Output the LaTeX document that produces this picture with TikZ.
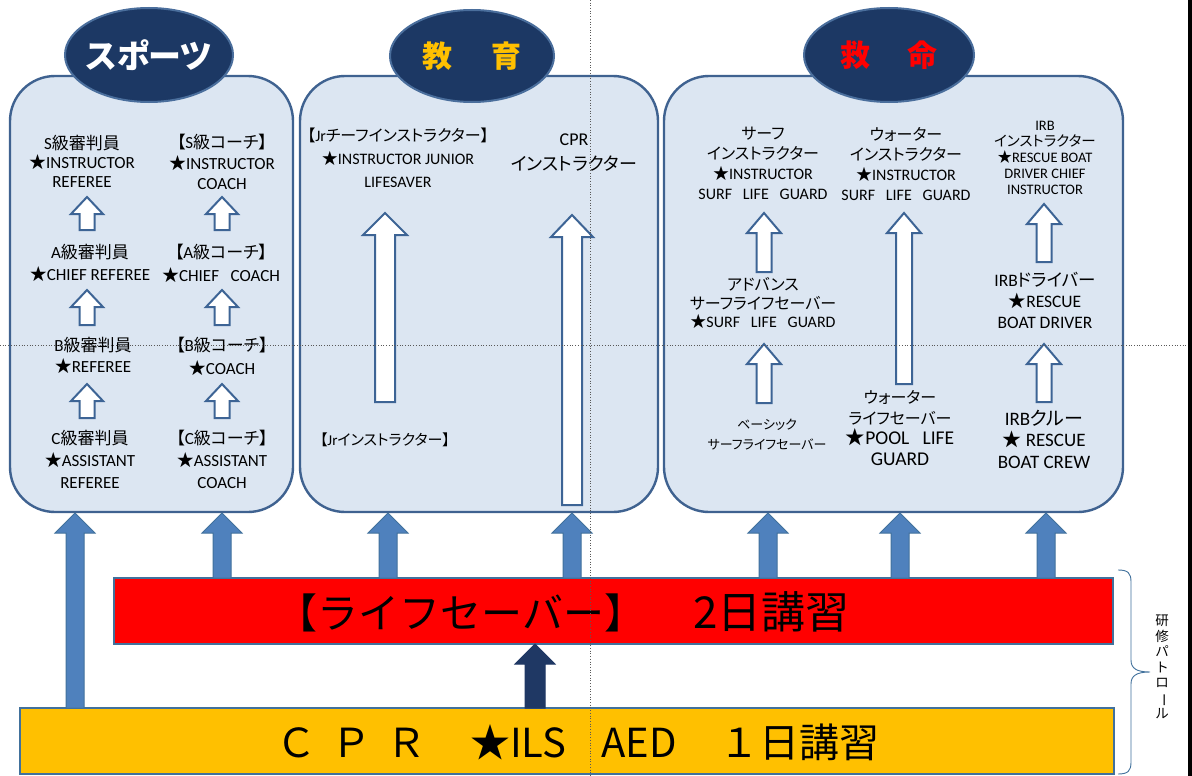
\documentclass[tikz,border=0pt]{standalone}
\usepackage{fontspec}
\setmainfont{Carlito}
\newfontfamily\jpf[RawFeature=+palt]{Noto Sans CJK JP}
\newfontfamily\jpw{Noto Sans CJK JP}
\newcommand\J[1]{{\jpf #1}}
\newcommand\fs[2]{\fontsize{#1}{#2}\selectfont}
\usetikzlibrary{shapes.geometric}
\definecolor{panelfill}{HTML}{DCE6F2}
\definecolor{panelline}{HTML}{3F6290}
\definecolor{ovalfill}{HTML}{1C3864}
\definecolor{ovalline}{HTML}{4A6E9C}
\definecolor{arrline}{HTML}{3D6495}
\definecolor{bluefill}{HTML}{4F81BD}
\definecolor{blueline}{HTML}{41719C}
\definecolor{navyfill}{HTML}{1F3864}
\definecolor{barline}{HTML}{41719C}
\definecolor{orangefill}{HTML}{FFC000}
\definecolor{titleorange}{HTML}{FFC000}
\tikzset{
  panel/.style={draw=panelline, fill=panelfill, line width=2.4pt, rounded corners=45pt, inner sep=0pt},
  oval/.style={ellipse, draw=ovalline, fill=ovalfill, line width=2pt, inner sep=0pt},
  title/.style={inner sep=0pt, font=\jpf\bfseries\fs{32}{36}},
  lbl/.style={align=center, inner sep=0pt, text=black},
  whitearr/.style={draw=arrline, fill=white, line width=2pt, line join=miter},
  bluearr/.style={draw=blueline, fill=bluefill, line width=1pt, line join=miter},
  navyarr/.style={draw=navyfill, fill=navyfill, line width=1pt, line join=miter},
  bar/.style={draw=barline, line width=2pt, inner sep=0pt},
  guide/.style={draw=black!65, dotted, line width=0.7pt},
  bracepath/.style={draw=blueline, line width=0.9pt}
}
% #1 style, #2 x, #3 ytop, #4 ybottom, #5 head width, #6 shaft width, #7 head height
\newcommand\blkarrow[7]{%
  \path[#1] ({#2-#6/2},#4) -- ({#2-#6/2},{#3+#7}) -- ({#2-#5/2},{#3+#7}) -- (#2,#3)
    -- ({#2+#5/2},{#3+#7}) -- ({#2+#6/2},{#3+#7}) -- ({#2+#6/2},#4) -- cycle;}
\begin{document}
\begin{tikzpicture}[x=1pt,y=-1pt]
\useasboundingbox (0,0) rectangle (1192,776);
\fill[white] (0,0) rectangle (1192,776);

% panels
\node[panel, minimum width=283pt, minimum height=436pt] (p1) at (151.5,294) {};
\node[panel, minimum width=358pt, minimum height=436pt] (p2) at (479,294) {};
\node[panel, minimum width=459pt, minimum height=436pt] (p3) at (893.5,294) {};

% title ovals
\node[oval, minimum width=168pt, minimum height=94pt] (e1) at (149,55) {};
\node[title, text=white, font=\jpf\bfseries\fs{33}{36}] (t1) at (e1) {スポーツ};
\node[oval, minimum width=164pt, minimum height=92pt] (e2) at (472,56) {};
\node[title, text=titleorange, font=\jpf\bfseries\fs{30}{34}] (t2) at (e2) {教\hspace{40pt}育};
\node[oval, minimum width=170pt, minimum height=94pt] (e3) at (889,55) {};
\node[title, text=red, font=\jpf\bfseries\fs{30}{34}] (t3) at (e3) {救\hspace{38pt}命};

% ---------- panel 1 : sports ----------
\begin{scope}[every node/.style={lbl, font=\fs{17}{19}}]
\node (s1) at (82,161) {S\J{級審判員}\\\J{★}INSTRUCTOR\\REFEREE};
\node[font=\fs{17}{20.5}] (c1) at (222,162) {\J{【}S\J{級コーチ】}\\\J{★}INSTRUCTOR\\COACH};
\node[font=\fs{17}{22}] (s2) at (90,263) {A\J{級審判員}\\\J{★}CHIEF REFEREE};
\node[font=\fs{17}{23}] (c2) at (221,263.5) {\J{【}A\J{級コーチ】}\\\J{★}CHIEF\ \ \ COACH};
\node[font=\fs{17}{21}] (s3) at (93,355.5) {B\J{級審判員}\\\J{★}REFEREE};
\node[font=\fs{17}{23}] (c3) at (222,356.5) {\J{【}B\J{級コーチ】}\\\J{★}COACH};
\node[font=\fs{17}{22}] (s4) at (90,459) {C\J{級審判員}\\\J{★}ASSISTANT\\REFEREE};
\node[font=\fs{17}{22}] (c4) at (222,459) {\J{【}C\J{級コーチ】}\\\J{★}ASSISTANT\\COACH};
\end{scope}
\blkarrow{whitearr}{87}{197}{230}{32}{15}{17}
\blkarrow{whitearr}{222}{197}{230}{32}{15}{17}
\blkarrow{whitearr}{87}{290}{325}{32}{15}{17}
\blkarrow{whitearr}{222}{290}{325}{32}{15}{17}
\blkarrow{whitearr}{87}{384}{418}{32}{15}{17}
\blkarrow{whitearr}{222}{384}{418}{32}{15}{17}

% ---------- panel 2 : education ----------
\begin{scope}[every node/.style={lbl, font=\fs{16}{23}}]
\node (j1) at (398,158) {\J{【}Jr\J{チーフインストラクター】}\\\J{★}INSTRUCTOR JUNIOR\\LIFESAVER};
\node[font=\fs{18}{25}] (cpr) at (574,153) {CPR\\\J{インストラクター}};
\node[font=\fs{15}{18}] (j2) at (385,440) {\J{【}Jr\J{インストラクター】}};
\end{scope}
\blkarrow{whitearr}{385}{213}{402}{44}{20}{22}
\blkarrow{whitearr}{572}{215}{505}{42}{20}{22}

% ---------- panel 3 : lifesaving ----------
\begin{scope}[every node/.style={lbl, font=\fs{16}{20}}]
\node (r1) at (763,163) {\J{サーフ}\\\J{インストラクター}\\\J{★}INSTRUCTOR\\SURF\ \ \ LIFE\ \ \ GUARD};
\node[font=\fs{16}{18.5}] (r2) at (763,303) {\J{アドバンス}\\\J{サーフライフセーバー}\\\J{★}SURF\ \ \ LIFE\ \ \ GUARD};
\node[font=\fs{13}{20}] (r3) at (767,435) {\J{ベーシック}\\\J{サーフライフセーバー}};
\node (w1) at (906,164) {\J{ウォーター}\\\J{インストラクター}\\\J{★}INSTRUCTOR\\SURF\ \ \ LIFE\ \ \ GUARD};
\node[font=\fs{19.5}{20.5}] (w2) at (900,428) {\J{\fs{16}{20}ウォーター}\\\J{\fs{16}{20}ライフセーバー}\\\J{★}POOL\ \ \ LIFE\\GUARD};
\node[font=\fs{14.5}{16}] (i1) at (1045,158) {IRB\\\J{インストラクター}\\\J{★}RESCUE BOAT\\DRIVER CHIEF\\INSTRUCTOR};
\node[font=\fs{17.5}{21}] (i2) at (1045,300) {IRB\J{ドライバー}\\\J{★}RESCUE\\BOAT DRIVER};
\node[font=\fs{19}{21.5}] (i3) at (1044,439) {IRB\J{クルー}\\\J{★} RESCUE\\BOAT CREW};
\end{scope}
\blkarrow{whitearr}{764}{213}{272}{34}{15}{20}
\blkarrow{whitearr}{764}{344}{403}{34}{15}{20}
\blkarrow{whitearr}{904}{213}{384}{34}{16}{20}
\blkarrow{whitearr}{1044}{204}{262}{34}{15}{20}
\blkarrow{whitearr}{1044}{344}{402}{34}{15}{20}

% ---------- bottom bars ----------
\node[bar, fill=red, minimum width=999pt, minimum height=66pt] (red) at (613.5,611) {};
\node[lbl, font=\jpw\fs{41}{43}] (redtxt) at (563,612) {【ライフセーバー】\hspace{48pt}{\fs{44}{46}2日講習}};
\node[bar, fill=orangefill, minimum width=1094pt, minimum height=66pt] (orange) at (567,741) {};
\node[lbl, font=\jpw\fs{40}{42}] (oratxt) at (578,742) {Ｃ\hspace{15pt}Ｐ\hspace{15pt}Ｒ\hspace{44pt}★ILS\hspace{35pt}AED\hspace{43pt}１日講習};

% blue arrows up to panels
\blkarrow{bluearr}{75}{513}{708}{40}{18}{20}
\blkarrow{bluearr}{222}{513}{578}{40}{18}{20}
\blkarrow{bluearr}{388}{513}{578}{40}{18}{20}
\blkarrow{bluearr}{572}{513}{578}{40}{18}{20}
\blkarrow{bluearr}{768}{513}{578}{40}{18}{20}
\blkarrow{bluearr}{900}{513}{578}{40}{18}{20}
\blkarrow{bluearr}{1046}{513}{578}{40}{18}{20}
% navy arrow from orange bar to red bar
\blkarrow{navyarr}{535}{644}{708}{40}{20}{20}

% brace and side label
\coordinate (bt) at (1118,570);
\coordinate (bb) at (1118,774);
\coordinate (btip) at (1150,672);
\draw[bracepath] (bt) .. controls (1128,570) and (1131,573) .. (1131,582)
  -- (1131,660) .. controls (1131,668) and (1136,672) .. (btip)
  .. controls (1136,672) and (1131,676) .. (1131,684)
  -- (1131,762) .. controls (1131,771) and (1128,774) .. (bb);
\node[lbl, font=\jpw\fs{13.5}{15.5}] (side) at (1162,667) {研\\修\\パ\\ト\\ロ\\\rotatebox[origin=c]{-90}{ー}\\ル};

% guide lines and right edge
\draw[guide] (590,0) -- (590,776);
\draw[guide] (0,345) -- (1188,345);
\fill[black] (1188,0) rectangle (1192,776);
\end{tikzpicture}
\end{document}
